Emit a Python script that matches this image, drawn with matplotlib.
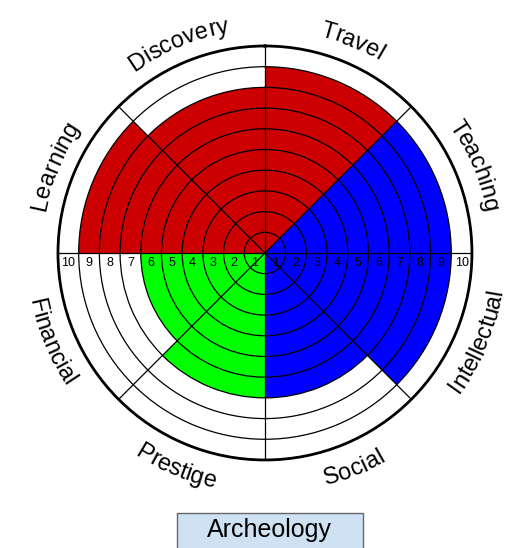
import numpy as np
import matplotlib
matplotlib.use("Agg")
import matplotlib.pyplot as plt
from matplotlib.font_manager import FontProperties
from matplotlib.patches import Rectangle

categories = ["Travel", "Teaching", "Intellectual", "Social",
              "Prestige", "Financial", "Learning", "Discovery"]
scores = [9, 9, 9, 7, 7, 6, 9, 8]
colors = ["#cc0000", "#0000ff", "#0000ff", "#0000ff",
          "#00ff00", "#00ff00", "#cc0000", "#cc0000"]
ring_labels = [str(i) for i in range(1, 11)]
title = "Archeology"

plt.rcParams["font.family"] = ["Liberation Sans", "DejaVu Sans"]

fig = plt.figure(figsize=(5.14, 5.48), dpi=100)
ax = fig.add_axes([0.1128, 0.1606, 0.8054, 0.7555], projection="polar")
ax.set_theta_zero_location("N")
ax.set_theta_direction(-1)

n = len(categories)
width = 2 * np.pi / n
theta = np.arange(n) * width + width / 2
ax.bar(theta, scores, width=width, color=colors, edgecolor="none", zorder=1)

ax.set_ylim(0, 10)
ax.set_yticks(np.arange(1, 11))
ax.set_xticks(np.arange(n) * width)
ax.set_xticklabels([])
ax.set_yticklabels([])
ax.grid(True, color="black", linewidth=0.9)
ax.set_axisbelow(False)
ax.spines["polar"].set_linewidth(2)
ax.tick_params(length=0)

# ring numbers along the horizontal line
for k, lab in enumerate(ring_labels, start=1):
    for side in (np.pi / 2, 3 * np.pi / 2):
        ax.annotate(lab, xy=(side, k - 0.5), xytext=(0, -7.5),
                    textcoords="offset points", ha="center", va="center",
                    fontsize=9)

# curved category labels
renderer = fig.canvas.get_renderer()
prop = FontProperties(family=["Liberation Sans"], size=17)
px_per_unit = ax.get_window_extent(renderer).width / 20
r_mid = 11.2
cap = 0.716 * 17 * fig.dpi / 72 / px_per_unit

for name, th in zip(categories, theta):
    top = np.cos(th) > 0
    r_base = r_mid - cap / 2 if top else r_mid + cap / 2
    R_px = r_base * px_per_unit
    widths = [renderer.get_text_width_height_descent(name[:i], prop, ismath=False)[0]
              if i > 0 else 0 for i in range(len(name) + 1)]
    W = widths[-1]
    for i, ch in enumerate(name):
        s = (widths[i] + widths[i + 1]) / 2
        d = (s - W / 2) / R_px
        t = th + d if top else th - d
        rot = -np.degrees(t) if top else 180 - np.degrees(t)
        ax.text(t, r_base, ch, rotation=rot, rotation_mode="anchor",
                ha="center", va="baseline", fontproperties=prop)

fig.add_artist(Rectangle((0.344, -0.05), 0.362, 0.114, transform=fig.transFigure,
                         facecolor="#cfe2f3", edgecolor="#666666", linewidth=1))
fig.text(0.525, 0.02, title, ha="center", va="baseline", fontsize=18)

fig.savefig("out.png", dpi=100)
